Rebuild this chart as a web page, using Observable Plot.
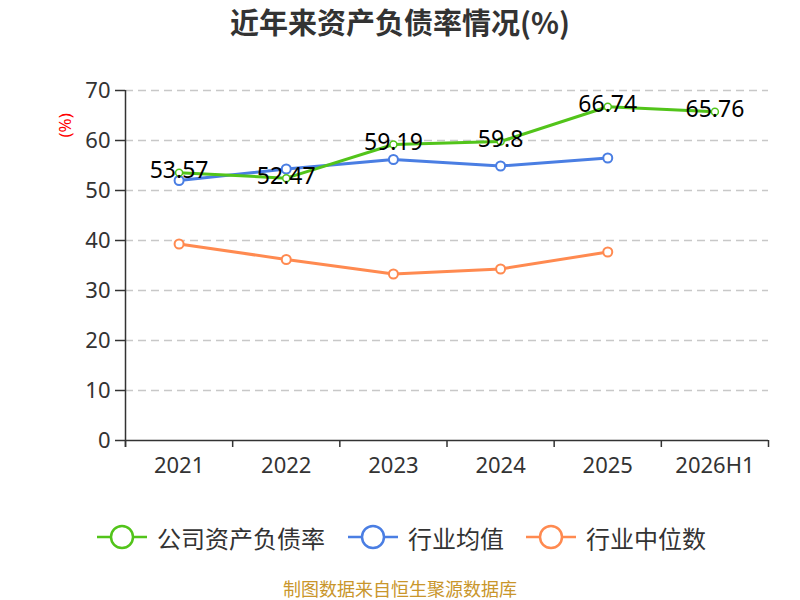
<!DOCTYPE html>
<html><head><meta charset="utf-8">
<script src="https://cdn.jsdelivr.net/npm/d3@7"></script>
<script src="https://cdn.jsdelivr.net/npm/@observablehq/plot@0.6"></script>
<style>
body{margin:0;background:#fff;font-family:"Noto Sans CJK SC","Noto Sans",sans-serif;width:800px;height:600px;overflow:hidden;position:relative}
#title{height:43px;line-height:43px;text-align:center;font-size:29px;font-weight:bold;color:#333;margin-bottom:2px}
#chart svg{display:block}
.leg{position:absolute;top:522px;height:30px;display:flex;align-items:center;font-size:24px;color:#333}
.leg svg{margin-right:10px}
#caption{position:absolute;top:577px;height:22px;line-height:22px;width:800px;text-align:center;font-size:18px;color:#c9962b}
</style></head><body>
<div id="title">近年来资产负债率情况(%)</div>
<div id="chart"></div>
<div id="legend"></div>
<div id="caption">制图数据来自恒生聚源数据库</div>
<script>
const categories = ["2021", "2022", "2023", "2024", "2025", "2026H1"];
const company = [53.57, 52.47, 59.19, 59.8, 66.74, 65.76];
const industryAvg = [52.0, 54.3, 56.2, 54.9, 56.5];
const industryMedian = [39.3, 36.2, 33.3, 34.3, 37.7];
const yTicks = [0, 10, 20, 30, 40, 50, 60, 70];
const seriesNames = ["公司资产负债率", "行业均值", "行业中位数"];
const colors = ["#52c41a", "#4a7ee3", "#ff8a50"];
const numFont = '"Noto Sans","Open Sans",sans-serif';

const toRows = arr => arr.map((v, i) => ({x: i + 0.5, v, cat: categories[i]}));
const compRows = toRows(company), avgRows = toRows(industryAvg), medRows = toRows(industryMedian);

const chart = Plot.plot({
  width: 800, height: 445,
  marginTop: 45, marginBottom: 50, marginLeft: 125, marginRight: 32,
  style: {fontFamily: numFont, background: "#fff"},
  x: {type: "linear", domain: [0, categories.length], label: null},
  y: {domain: [0, 70], label: null},
  marks: [
    Plot.ruleY(yTicks.filter(t => t > 0), {stroke: "#c8c8c8", strokeWidth: 1.3, strokeDasharray: "8,5"}),
    Plot.axisY({ticks: yTicks, tickSize: 10, tickPadding: 5, fontSize: 22, color: "#333", strokeWidth: 1.5, tickFormat: d => d, label: null}),
    Plot.axisX({ticks: d3.range(categories.length + 1), tickSize: 7, tickFormat: () => "", color: "#333", strokeWidth: 1.5, label: null}),
    Plot.axisX({ticks: categories.map((c, i) => i + 0.5), tickSize: 0, tickPadding: 17, fontSize: 22, color: "#333", tickFormat: d => categories[Math.floor(d)], label: null}),
    Plot.ruleX([0], {y1: -1.4, y2: 70, stroke: "#333", strokeWidth: 1.5}),
    Plot.ruleY([0], {stroke: "#333", strokeWidth: 1.5}),
    Plot.text(["(%)"], {frameAnchor: "top-left", dx: -67, dy: 47, rotate: -90, fill: "red", fontSize: 17}),
    Plot.line(medRows, {x: "x", y: "v", stroke: colors[2], strokeWidth: 3}),
    Plot.dot(medRows, {x: "x", y: "v", r: 4.5, fill: "white", stroke: colors[2], strokeWidth: 2}),
    Plot.line(avgRows, {x: "x", y: "v", stroke: colors[1], strokeWidth: 3}),
    Plot.dot(avgRows, {x: "x", y: "v", r: 4.5, fill: "white", stroke: colors[1], strokeWidth: 2}),
    Plot.line(compRows, {x: "x", y: "v", stroke: colors[0], strokeWidth: 3}),
    Plot.dot(compRows, {x: "x", y: "v", r: 3.5, fill: "white", stroke: colors[0], strokeWidth: 1.5}),
    Plot.text(compRows, {x: "x", y: "v", text: d => String(d.v), dy: -2, fontSize: 23, fill: "#000"})
  ]
});
document.getElementById("chart").appendChild(chart);

const legendLeft = [97, 348, 526];
const legend = document.getElementById("legend");
seriesNames.forEach((name, i) => {
  const item = document.createElement("div");
  item.className = "leg";
  item.style.left = legendLeft[i] + "px";
  item.innerHTML = `<svg width="50" height="30"><line x1="0" y1="15" x2="50" y2="15" stroke="${colors[i]}" stroke-width="2.5"/><circle cx="25" cy="15" r="11" fill="white" stroke="${colors[i]}" stroke-width="2.5"/></svg><span>${name}</span>`;
  legend.appendChild(item);
});
</script>
</body></html>
